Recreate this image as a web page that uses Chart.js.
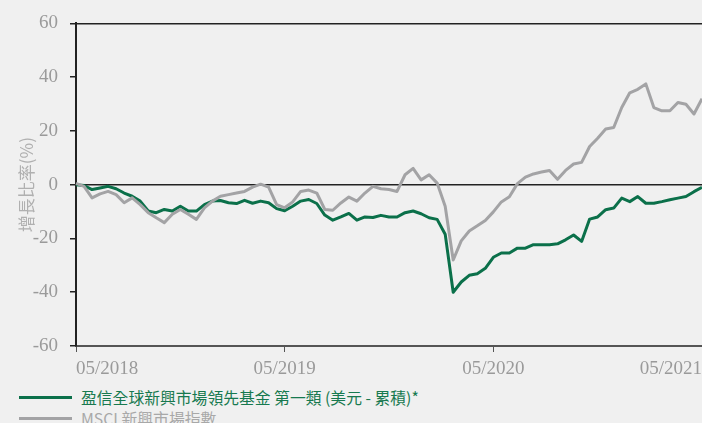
<!DOCTYPE html>
<html>
<head>
<meta charset="utf-8">
<script src="https://cdn.jsdelivr.net/npm/chart.js@4"></script>
<style>
  html, body { margin: 0; padding: 0; background: #f0f0f0; }
  #wrap { position: relative; width: 702px; height: 423px; overflow: hidden; }
  #grafico { position: absolute; left: 0; top: 0; }
  .item { position: absolute; left: 0; width: 702px; height: 21px; }
  .linha { position: absolute; left: 19px; width: 53px; height: 3px; top: 9px; }
  .texto { position: absolute; left: 81px; top: 0; line-height: 21px; white-space: nowrap;
           font-family: "Noto Sans CJK TC", "Noto Sans", sans-serif; font-size: 15.8px; }
</style>
</head>
<body>
<div id="wrap">
  <canvas id="grafico" width="702" height="385"></canvas>
  <div id="legenda"></div>
</div>
<script>
// datas quinzenais (eixo x)
const datas = [
  '2018-05-01','2018-05-15','2018-05-29','2018-06-12','2018-06-26','2018-07-10','2018-07-24','2018-08-07',
  '2018-08-21','2018-09-04','2018-09-18','2018-10-02','2018-10-16','2018-10-30','2018-11-13','2018-11-27',
  '2018-12-11','2018-12-25','2019-01-08','2019-01-22','2019-02-05','2019-02-19','2019-03-05','2019-03-19',
  '2019-04-02','2019-04-16','2019-04-30','2019-05-14','2019-05-28','2019-06-11','2019-06-25','2019-07-09',
  '2019-07-23','2019-08-06','2019-08-20','2019-09-03','2019-09-17','2019-10-01','2019-10-15','2019-10-29',
  '2019-11-12','2019-11-26','2019-12-10','2019-12-24','2020-01-07','2020-01-21','2020-02-04','2020-02-18',
  '2020-03-03','2020-03-17','2020-03-31','2020-04-14','2020-04-28','2020-05-12','2020-05-26','2020-06-09',
  '2020-06-23','2020-07-07','2020-07-21','2020-08-04','2020-08-18','2020-09-01','2020-09-15','2020-09-29',
  '2020-10-13','2020-10-27','2020-11-10','2020-11-24','2020-12-08','2020-12-22','2021-01-05','2021-01-19',
  '2021-02-02','2021-02-16','2021-03-02','2021-03-16','2021-03-30','2021-04-13','2021-04-27'
];

// fundo (%)
const fundo = [
  0, -0.3, -1.8, -1.2, -0.6, -1.5, -3.1, -4.3, -6.1, -9.8, -10.4, -9.2, -9.8, -8.0, -9.8, -9.8,
  -7.4, -6.1, -5.9, -6.7, -7.0, -5.8, -6.9, -6.1, -6.7, -8.9, -9.7, -8.0, -6.1, -5.5, -7.0, -11.3,
  -13.2, -12.0, -10.7, -13.2, -12.0, -12.2, -11.4, -12.0, -12.0, -10.4, -9.8, -10.8, -12.3, -12.9,
  -18.4, -40.0, -36.2, -33.7, -33.1, -31.1, -27.0, -25.4, -25.4, -23.6, -23.6, -22.3, -22.3, -22.3,
  -22.0, -20.5, -18.7, -21.1, -12.8, -12.0, -9.3, -8.7, -5.0, -6.3, -4.4, -6.9, -6.9, -6.3, -5.6,
  -5.0, -4.4, -2.6, -1.0
];

// indice MSCI (%)
const indice = [
  0.5, -0.6, -4.9, -3.4, -2.5, -3.7, -6.7, -4.9, -7.4, -10.4, -12.3, -14.1, -11.0, -9.2, -11.0, -12.9,
  -8.6, -6.1, -4.3, -3.7, -3.1, -2.5, -0.9, 0.2, -0.9, -7.4, -8.6, -6.4, -2.5, -2.0, -3.1, -9.2,
  -9.5, -6.8, -4.6, -6.1, -3.1, -0.6, -1.5, -1.8, -2.5, 3.7, 6.1, 1.8, 3.7, 0.6,
  -8.0, -28.0, -20.9, -17.2, -15.3, -13.3, -10.1, -6.4, -4.5, 0.4, 2.8, 4.0, 4.7, 5.3,
  2.0, 5.3, 7.7, 8.3, 14.2, 17.3, 20.7, 21.3, 28.7, 34.2, 35.5, 37.5, 28.7, 27.5, 27.5,
  30.6, 29.9, 26.3, 32.0
];

const rotulosEixo = ['05/2018', '05/2019', '05/2020', '05/2021'];
const passoRotulo = 26;

const nomeFundo = '盈信全球新興市場領先基金 第一類 (美元 - 累積)*';
const nomeIndice = 'MSCI 新興市場指數';
const corFundo = '#0b704a';
const corIndice = '#a3a3a5';

const fonteEixo = { family: '"Liberation Serif", serif', size: 19 };

const chart = new Chart(document.getElementById('grafico'), {
  type: 'line',
  data: {
    labels: datas,
    datasets: [
      { label: nomeFundo, data: fundo, borderColor: corFundo, order: 1, textColor: '#17794f' },
      { label: nomeIndice, data: indice, borderColor: corIndice, order: 0, textColor: '#a8a8a8' }
    ]
  },
  options: {
    responsive: false,
    animation: false,
    layout: { padding: { top: 20, right: 0, left: 0, bottom: 0 } },
    elements: {
      line: { borderWidth: 3, tension: 0, borderJoinStyle: 'round', fill: false },
      point: { radius: 0 }
    },
    scales: {
      x: {
        type: 'category',
        grid: { drawOnChartArea: false, tickLength: 6, color: '#555' },
        border: { color: '#555', width: 2 },
        ticks: {
          autoSkip: false,
          maxRotation: 0,
          align: 'inner',
          padding: 6,
          color: '#9a9a9a',
          font: fonteEixo,
          callback: (v, i) => i % passoRotulo === 0 ? rotulosEixo[i / passoRotulo] : null
        },
        // sem folga à direita: o eixo vai até a borda
        afterFit: s => { s.height = 39; s.paddingRight = 0; s.paddingLeft = 0; }
      },
      y: {
        min: -60,
        max: 60,
        ticks: { stepSize: 20, padding: 12, color: '#9a9a9a', font: fonteEixo },
        grid: {
          color: c => (c.tick && (c.tick.value === 0 || c.tick.value === 60)) ? '#222' : 'rgba(0,0,0,0)',
          tickColor: '#222',
          tickLength: 6,
          lineWidth: 1.5
        },
        border: { color: '#222', width: 2 },
        title: {
          display: true,
          text: '增長比率(%)',
          color: '#b0b0b0',
          font: { family: '"Noto Sans CJK TC", sans-serif', size: 17 },
          padding: { top: 16, bottom: 0 }
        },
        afterFit: s => { s.width = 76; }
      }
    },
    plugins: {
      legend: { display: false },
      tooltip: { enabled: false }
    }
  }
});

// legenda em HTML, uma linha por série
const legenda = document.getElementById('legenda');
chart.data.datasets.forEach((ds, i) => {
  const item = document.createElement('div');
  item.className = 'item';
  item.style.top = (387 + i * 21) + 'px';
  const linha = document.createElement('div');
  linha.className = 'linha';
  linha.style.background = ds.borderColor;
  const texto = document.createElement('span');
  texto.className = 'texto';
  texto.style.color = ds.textColor;
  texto.textContent = ds.label;
  item.appendChild(linha);
  item.appendChild(texto);
  legenda.appendChild(item);
});
</script>
</body>
</html>
